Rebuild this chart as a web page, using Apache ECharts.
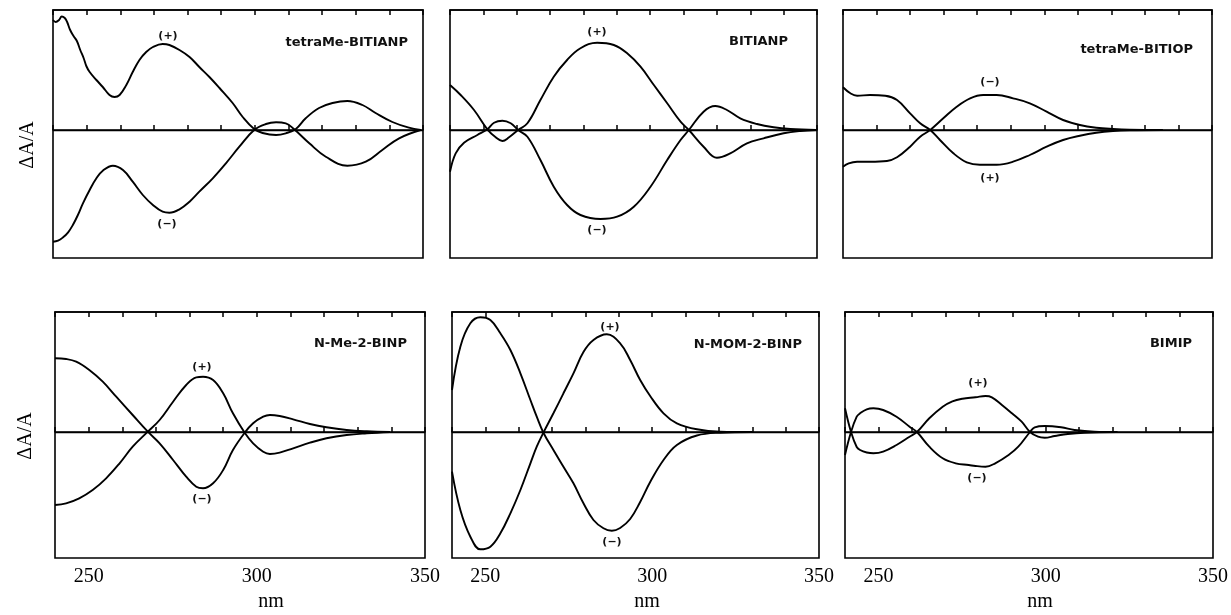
<!DOCTYPE html>
<html><head><meta charset="utf-8">
<script src="https://cdn.jsdelivr.net/npm/echarts@6/dist/echarts.min.js"></script>
<style>html,body{margin:0;padding:0;background:#fff}#c{width:1231px;height:615px}</style>
</head><body><div id="c"></div>
<script>
// wavelength axis
const nmMin = 240, nmMax = 350, nmStep = 10;
const tickLabels = [250, 300, 350];
const panelTitles = ['tetraMe-BITIANP', 'BITIANP', 'tetraMe-BITIOP', 'N-Me-2-BINP', 'N-MOM-2-BINP', 'BIMIP'];

// [nm, ΔA/A (arbitrary units)]
const p1Plus = [[240,110],[240.8,108],[241.8,110],[242.6,113.5],[243.5,112],[244.2,108],[245.1,100],[246.1,94],[247.1,89],[248.1,80],[249.1,72],[249.9,64],[250.9,58],[252.9,50],[254.8,43],[256.8,35],[258.3,33],[259.8,35],[261.8,45],[263.7,58],[265.7,70],[267.7,78],[269.7,83],[272.6,86],[274.6,85],[277.6,80],[280.6,73],[283.5,63],[286.5,53],[289.5,42],[293.4,27],[296.4,13],[299.8,1],[302.3,-3],[306.3,-5],[309.2,-3.3],[312.2,1],[315.2,12],[319.1,22],[323.1,27],[327.5,29],[332.0,25],[335.9,17],[340.9,8],[345.8,2.3],[349.3,0]];
const p1Minus = [[240,-111.7],[241.5,-110.7],[243,-107.3],[244.5,-102.3],[245.9,-95],[247.4,-85],[248.9,-73.3],[250.9,-60],[252.9,-48.3],[254.8,-40.7],[257.8,-35.7],[260.8,-40],[263.7,-51.7],[266.7,-65],[269.7,-75],[272.6,-81.7],[274.6,-82.7],[277.6,-79.3],[280.6,-71.7],[283.5,-61.7],[287.5,-48.3],[291.4,-33.3],[295.4,-16.7],[299.8,0],[303.3,6],[306.3,7.7],[309.2,6.7],[311.7,0.7],[316.2,-13.3],[321.1,-26.7],[327.5,-35.7],[333.0,-31.7],[337.9,-20],[342.9,-8.3],[349.3,0]];

const p2Plus = [[240,45],[243.2,35],[247.2,20],[251.2,0.7],[253.7,-7.3],[255.7,-11],[257.7,-7.3],[260.4,0],[263.2,6.7],[267.1,30],[271.1,53.3],[275.1,70],[279.1,81.7],[284.1,87.3],[289.1,85],[293.1,76.7],[297.1,63.3],[301.1,45],[305.1,26.7],[309.1,8.3],[311.6,0],[316.0,-16.7],[320.0,-27.7],[324.0,-23.3],[329.0,-13.3],[334.0,-8.3],[340.0,-3.3],[345.0,-1],[349.7,0]];
const p2Minus = [[240,-41.7],[241.7,-23.3],[244.2,-12.7],[248.2,-5],[251.2,0.7],[253.2,7.3],[255.7,9.3],[258.2,6.7],[260.4,0],[263.2,-6.7],[267.1,-30],[271.1,-56.7],[275.1,-75],[279.1,-85],[285.1,-89],[290.1,-86.7],[295.1,-76.7],[300.1,-56.7],[305.1,-30],[309.1,-10],[311.6,0],[316.0,18.3],[319.5,24],[323.0,20],[327.0,11.7],[332.0,6],[337.0,2.7],[342.0,1],[349.7,0]];

const p3Plus = [[240,42.7],[242.2,36.7],[244.2,34.3],[248.1,35],[252.6,34.3],[256.1,30],[260.0,16.7],[263.0,6.7],[266.0,0],[268.9,-10],[272.9,-23.3],[276.9,-32.3],[280.8,-34.7],[285.8,-34.7],[290.7,-31.7],[295.7,-25],[300.7,-16.7],[305.6,-10],[310.6,-5.7],[315.5,-2.7],[320.5,-1],[325.4,-0.3],[335.3,0]];
const p3Minus = [[240,-36.7],[241.7,-33.3],[244.2,-31.7],[248.1,-31.7],[253.1,-31],[256.1,-27.3],[260.0,-16.7],[263.0,-6.7],[266.0,0],[269.9,11.7],[273.9,23.3],[277.9,31.7],[281.8,35],[285.8,35],[290.7,31.7],[295.7,26.7],[300.7,18.3],[305.6,10],[310.6,5],[315.5,2.3],[320.5,1],[325.4,0.3],[335.3,0]];

const p4Plus = [[240,-73],[243.3,-71.3],[247.2,-66.3],[251.2,-58],[255.2,-46.3],[259.2,-31.3],[263.1,-14.7],[267.6,0.3],[271.1,12],[275.1,30.3],[279.0,47],[282.0,54.7],[284.0,55.3],[287.0,52],[290.0,38.7],[292.9,18.7],[296.4,-0.7],[298.9,-11.3],[301.9,-19.7],[303.9,-22],[306.8,-20.7],[310.8,-16.3],[315.8,-10.7],[320.7,-6.3],[326.7,-3],[332.7,-1.3],[339.6,0]];
const p4Minus = [[240,73.7],[243.3,73],[246.3,70.3],[250.2,62],[254.2,50.3],[258.2,35.3],[263.1,17],[267.6,0.3],[271.1,-11.3],[275.1,-28],[279.0,-44.7],[282.0,-54.7],[284.0,-56.3],[287.0,-51.3],[290.0,-38],[292.9,-18],[296.4,-0.7],[298.9,8.7],[301.9,15.3],[303.9,17],[306.8,16],[310.8,12.7],[315.8,8],[320.7,4.7],[326.7,2],[332.7,0.7],[339.6,0]];

const p5Plus = [[240,-39.7],[242.5,-78],[245.5,-104.7],[248.5,-117.3],[251.5,-114.7],[254.5,-101.3],[257.5,-81.3],[260.5,-58],[263.5,-31.3],[265.4,-14.7],[267.4,-0.7],[270.4,18.7],[273.4,38.7],[276.4,58.7],[279.4,80],[282.4,92],[286.4,97.7],[290.4,88.7],[293.4,72],[296.4,52],[299.4,36],[303.4,18.7],[307.4,8.7],[313.4,2.7],[320.4,0.3],[330,0]];
const p5Minus = [[240,42],[242.5,85.3],[245.5,108.7],[248.5,114.7],[251.5,112],[254.5,98.7],[257.5,82],[260.5,58.7],[263.5,32],[265.4,15.3],[267.4,-0.7],[270.4,-18],[273.4,-34.7],[276.4,-51.3],[279.4,-71.3],[282.4,-88],[285.4,-96.3],[287.9,-98.7],[290.4,-96],[293.4,-87],[296.4,-70],[299.4,-50],[303.4,-28],[307.4,-13],[313.4,-3.5],[320.4,-0.7],[330,0]];

const p6Plus = [[240,23.7],[241.8,0],[243.5,-15],[244.5,-18],[246.5,-20.5],[248.5,-21.3],[251.4,-19.7],[255.4,-13],[259.3,-4.7],[261.5,0],[265.2,13.7],[269.2,25.3],[272.1,30.7],[275.1,33.3],[279.0,34.7],[282.0,36],[283.9,34.7],[286.9,27],[289.9,18.7],[292.8,10.3],[295.3,0],[297.7,-4.7],[299.7,-5.7],[302.7,-4],[306.6,-2],[311.5,-0.7],[321.4,0]];
const p6Minus = [[240,-23],[241.8,0],[243.5,15.3],[244.5,18.7],[246.5,22.7],[248.5,23.7],[251.4,22],[255.4,15.3],[259.3,5.3],[261.5,0],[265.2,-14.7],[269.2,-26.3],[273.1,-31.3],[277.0,-33],[279.0,-34],[282.0,-34.7],[284.9,-31.3],[288.9,-23],[291.8,-14.7],[295.3,0],[296.7,4.7],[299.7,6],[304.6,4.7],[308.6,2],[314.5,0.3],[321.4,0]];

const panels = [
  {plus:p1Plus, minus:p1Minus, g:[53,10,370,248], y:[-128,120], labels:false, title:[408,43], pl:[168,36], mi:[167,224]},
  {plus:p2Plus, minus:p2Minus, g:[450,10,367,248], y:[-128,120], labels:false, title:[788,42], pl:[597,32], mi:[597,230]},
  {plus:p3Plus, minus:p3Minus, g:[843,10,369,248], y:[-128,120], labels:false, title:[1193,50], pl:[990,178], mi:[990,82]},
  {plus:p4Plus, minus:p4Minus, g:[55,312,370,246], y:[-126,120], labels:true, title:[407,344], pl:[202,367], mi:[202,499]},
  {plus:p5Plus, minus:p5Minus, g:[452,312,367,246], y:[-126,120], labels:true, title:[802,345], pl:[610,327], mi:[612,542]},
  {plus:p6Plus, minus:p6Minus, g:[845,312,372,246], y:[-126,120], labels:true, title:[1192,344], pl:[978,383], mi:[977,478]}
];

const grids = [], xAxes = [], yAxes = [], series = [], graphics = [];
const sans = 'DejaVu Sans';
panels.forEach((p, i) => {
  grids.push({left:p.g[0], top:p.g[1], width:p.g[2], height:p.g[3], show:true, borderColor:'#000', borderWidth:1.6, backgroundColor:'transparent'});
  const base = {type:'value', gridIndex:i, min:nmMin, max:nmMax, interval:nmStep, splitLine:{show:false},
    axisLine:{show:true, lineStyle:{color:'#000', width:1.6}},
    axisTick:{show:true, inside:true, length:5, lineStyle:{color:'#000', width:1.5}}};
  xAxes.push(Object.assign({}, base, {position:'bottom',
    axisLabel:{show:p.labels, margin:9, color:'#000', fontFamily:'Liberation Serif', fontSize:20,
      formatter: v => tickLabels.indexOf(Math.round(v)) >= 0 ? String(Math.round(v)) : ''}}));
  xAxes.push(Object.assign({}, base, {position:'top', axisLabel:{show:false}}));
  yAxes.push({type:'value', gridIndex:i, min:p.y[0], max:p.y[1], show:false});
  const ls = {color:'#000', width:1.9};
  series.push({type:'line', name:'(+)', xAxisIndex:2*i, yAxisIndex:i, data:p.plus, showSymbol:false, smooth:0.4, lineStyle:ls, silent:true,
    markLine:{silent:true, symbol:['none','none'], label:{show:false}, lineStyle:{color:'#000', width:1.4, type:'solid'}, data:[{yAxis:0}]}});
  series.push({type:'line', name:'(-)', xAxisIndex:2*i, yAxisIndex:i, data:p.minus, showSymbol:false, smooth:0.4, lineStyle:ls, silent:true});
  graphics.push({type:'text', x:p.title[0], y:p.title[1], style:{text:panelTitles[i], font:'bold 13px "DejaVu Sans"', fill:'#111', textAlign:'right', textVerticalAlign:'middle'}});
  graphics.push({type:'text', x:p.pl[0], y:p.pl[1], style:{text:'(+)', font:'bold 11px "DejaVu Sans"', fill:'#111', textAlign:'center', textVerticalAlign:'middle'}});
  graphics.push({type:'text', x:p.mi[0], y:p.mi[1], style:{text:'(−)', font:'bold 11px "DejaVu Sans"', fill:'#111', textAlign:'center', textVerticalAlign:'middle'}});
});
[[28,145],[26,436]].forEach(c => graphics.push({type:'text', x:c[0], y:c[1], rotation:Math.PI/2,
  style:{text:'ΔA/A', font:'20px "Liberation Serif"', fill:'#000', textAlign:'center', textVerticalAlign:'middle'}}));
[271,647,1040].forEach(x => graphics.push({type:'text', x:x, y:602,
  style:{text:'nm', font:'20px "Liberation Serif"', fill:'#000', textAlign:'center', textVerticalAlign:'middle'}}));

const chart = echarts.init(document.getElementById('c'), null, {renderer:'canvas'});
chart.setOption({animation:false, backgroundColor:'#fff', grid:grids, xAxis:xAxes, yAxis:yAxes, series:series, graphic:graphics});
</script></body></html>
